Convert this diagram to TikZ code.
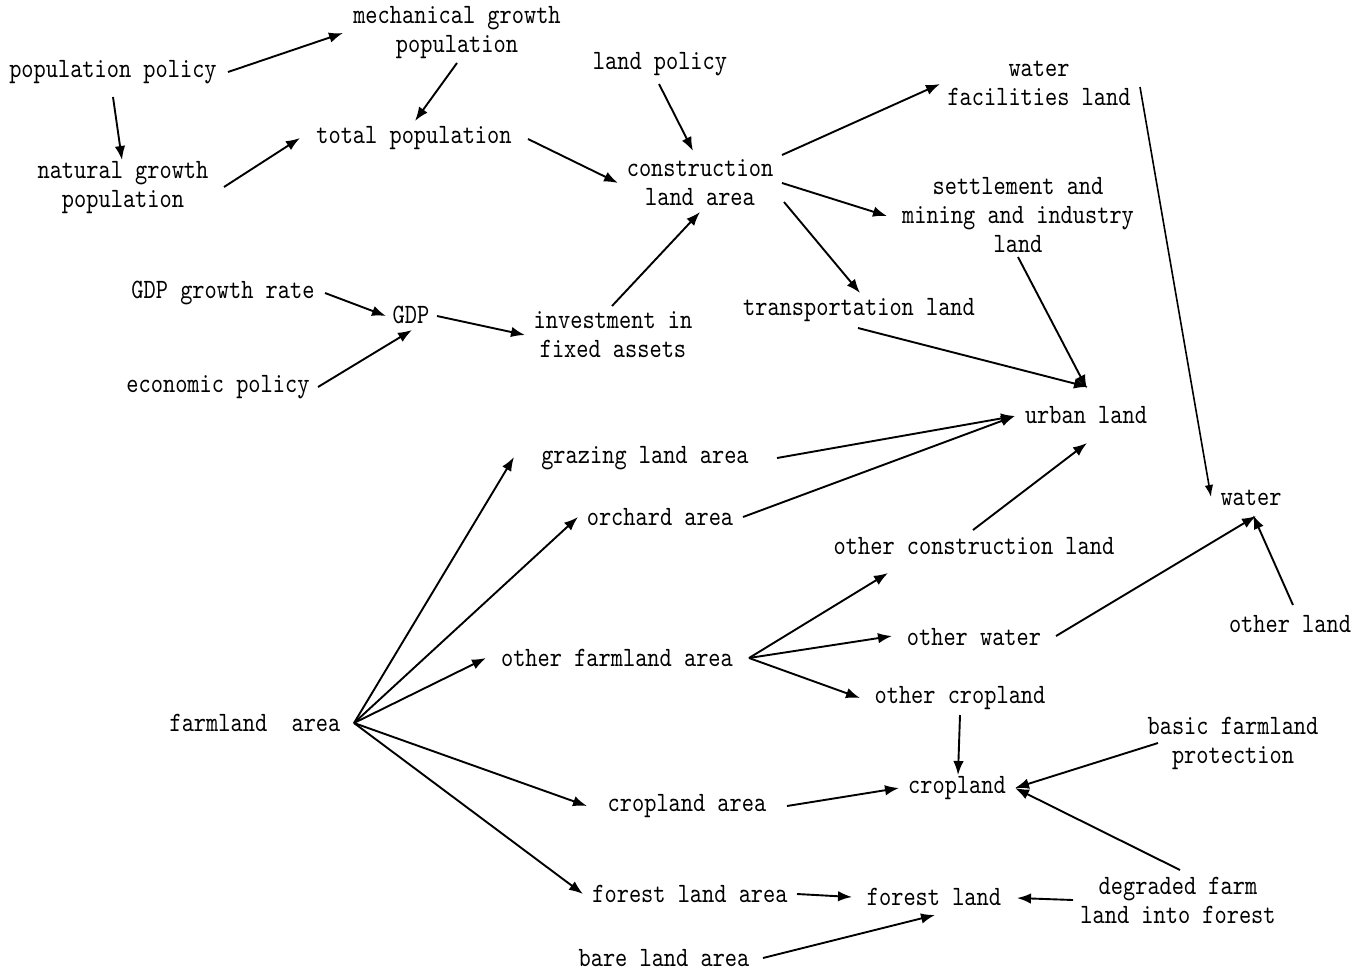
\documentclass[tikz,border=0pt]{standalone}
\usepackage{fontspec}
\newfontfamily\monolbl{lmmono10-regular}[Extension=.otf, FakeStretch=0.83]
\usetikzlibrary{arrows.meta}
\begin{document}
\begin{tikzpicture}[x=1pt,y=-1pt,
  lbl/.style={inner sep=0pt,align=center,font=\fontsize{28}{29}\selectfont\monolbl},
  conn/.style={line width=1.9pt,-{Latex[length=14pt,width=10.5pt]}}]
\useasboundingbox (0,0) rectangle (1368,975);
\fill[white] (0,0) rectangle (1368,975);
% nodes
\node[lbl] (pp) at (113,72) {population policy};
\node[lbl] (mech) at (457,33) {mechanical growth\\population};
\node[lbl] (tot) at (414,138) {total population};
\node[lbl] (nat) at (123,188) {natural growth\\population};
\node[lbl] (lp) at (660,64) {land policy};
\node[lbl] (cons) at (700,183) {construction\\land area};
\node[lbl] (wf) at (1039,83) {water\\facilities land};
\node[lbl] (set) at (1018,215) {settlement and\\mining and industry\\land};
\node[lbl] (trans) at (859,310) {transportation land};
\node[lbl] (gdpr) at (223,293) {GDP growth rate};
\node[lbl] (gdp) at (411,315) {GDP};
\node[lbl] (eco) at (218,387) {economic policy};
\node[lbl] (inv) at (613,335) {investment in\\fixed assets};
\node[lbl] (urban) at (1086,415) {urban land};
\node[lbl] (graz) at (645,458) {grazing land area};
\node[lbl] (orch) at (660,517) {orchard area};
\node[lbl] (water) at (1251,498) {water};
\node[lbl] (ocons) at (974,546) {other construction land};
\node[lbl] (owater) at (974,637) {other water};
\node[lbl] (oland) at (1290,624) {other land};
\node[lbl] (ofarm) at (617,658) {other farmland area};
\node[lbl] (ocrop) at (960,698) {other cropland};
\node[lbl] (farm) at (255,723) {farmland\ \ area};
\node[lbl] (basic) at (1233,743) {basic farmland\\protection};
\node[lbl] (crop) at (957,788) {cropland};
\node[lbl] (croparea) at (687,806) {cropland area};
\node[lbl] (deg) at (1178,900) {degraded farm\\land into forest};
\node[lbl] (fla) at (690,894) {forest land area};
\node[lbl] (forest) at (934,897) {forest land};
\node[lbl] (bare) at (664,958) {bare land area};
% connectors
\draw[conn] ([shift={(115,0)}]pp.center) -- ([shift={(-114,0)}]mech.center);
\draw[conn] ([shift={(0,25)}]pp.center) -- ([shift={(-1,-28)}]nat.center);
\draw[conn] ([shift={(0,30)}]mech.center) -- ([shift={(1,-17)}]tot.center);
\draw[conn] ([shift={(101,-1)}]nat.center) -- ([shift={(-114,0)}]tot.center);
\draw[conn] ([shift={(114,1)}]tot.center) -- ([shift={(-82,0)}]cons.center);
\draw[conn] ([shift={(-1,20)}]lp.center) -- ([shift={(-7,-32)}]cons.center);
\draw[conn] ([shift={(-1,-29)}]inv.center) -- ([shift={(0,29)}]cons.center);
\draw[conn] ([shift={(82,-28)}]cons.center) -- ([shift={(-99,1)}]wf.center);
\draw[conn] ([shift={(82,0)}]cons.center) -- ([shift={(-131,1)}]set.center);
\draw[conn] ([shift={(84,19)}]cons.center) -- ([shift={(1,-17)}]trans.center);
\draw[conn] ([shift={(102,0)}]gdpr.center) -- ([shift={(-25,1)}]gdp.center);
\draw[conn] ([shift={(100,0)}]eco.center) -- ([shift={(1,15)}]gdp.center);
\draw[conn] ([shift={(26,1)}]gdp.center) -- ([shift={(-88,0)}]inv.center);
\draw[conn] ([shift={(0,42)}]set.center) -- ([shift={(1,-26)}]urban.center);
\draw[conn] ([shift={(-1,18)}]trans.center) -- ([shift={(2,-28)}]urban.center);
\draw[conn] ([shift={(132,0)}]graz.center) -- ([shift={(-71,1)}]urban.center);
\draw[conn] ([shift={(83,0)}]orch.center) -- ([shift={(-71,1)}]urban.center);
\draw[line width=1.6pt,-{Latex[length=12pt,width=8.5pt]}] ([shift={(101,4)}]wf.center) -- ([shift={(-40,-1)}]water.center);
\draw[conn] ([shift={(-1,-16)}]ocons.center) -- ([shift={(1,28)}]urban.center);
\draw[conn] ([shift={(82,-1)}]owater.center) -- ([shift={(5,18)}]water.center);
\draw[conn] ([shift={(3,-19)}]oland.center) -- ([shift={(2,17)}]water.center);
\draw[conn] ([shift={(99,0)}]farm.center) -- ([shift={(-131,-1)}]graz.center);
\draw[conn] ([shift={(99,0)}]farm.center) -- ([shift={(-82,0)}]orch.center);
\draw[conn] ([shift={(99,0)}]farm.center) -- ([shift={(-131,0)}]ofarm.center);
\draw[conn] ([shift={(99,0)}]farm.center) -- ([shift={(-100,0)}]croparea.center);
\draw[conn] ([shift={(99,0)}]farm.center) -- ([shift={(-107,0)}]fla.center);
\draw[conn] ([shift={(132,0)}]ofarm.center) -- ([shift={(-86,27)}]ocons.center);
\draw[conn] ([shift={(132,0)}]ofarm.center) -- ([shift={(-82,-1)}]owater.center);
\draw[conn] ([shift={(132,0)}]ofarm.center) -- ([shift={(-100,0)}]ocrop.center);
\draw[conn] ([shift={(0,17)}]ocrop.center) -- ([shift={(1,-13)}]crop.center);
\draw[conn] ([shift={(100,0)}]croparea.center) -- ([shift={(-58,0)}]crop.center);
\draw[conn] ([shift={(-75,0)}]basic.center) -- ([shift={(58,0)}]crop.center);
\draw[conn] ([shift={(2,-30)}]deg.center) -- ([shift={(58,0)}]crop.center);
\draw[conn] ([shift={(107,0)}]fla.center) -- ([shift={(-82,0)}]forest.center);
\draw[conn] ([shift={(-105,0)}]deg.center) -- ([shift={(83,1)}]forest.center);
\draw[conn] ([shift={(99,0)}]bare.center) -- ([shift={(1,18)}]forest.center);
\end{tikzpicture}
\end{document}
